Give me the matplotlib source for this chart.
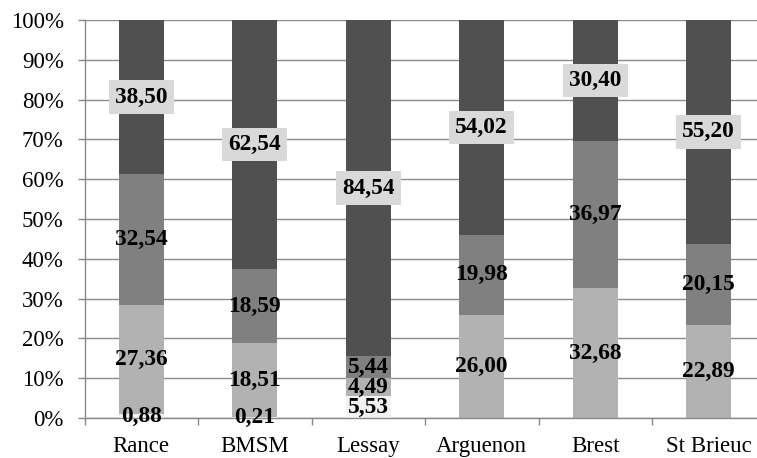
import matplotlib
matplotlib.use("Agg")
import matplotlib.pyplot as plt
import numpy as np

categories = ["Rance", "BMSM", "Lessay", "Arguenon", "Brest", "St Brieuc"]
s1 = [0.88, 0.21, 5.53, 0, 0, 0]
s2 = [27.36, 18.51, 4.49, 26.00, 32.68, 22.89]
s3 = [32.54, 18.59, 5.44, 19.98, 36.97, 20.15]
s4 = [38.50, 62.54, 84.54, 54.02, 30.40, 55.20]
yticks = [0, 10, 20, 30, 40, 50, 60, 70, 80, 90, 100]

series = [s1, s2, s3, s4]
colors = ["#f2f2f2", "#b2b2b2", "#808080", "#505050"]

plt.rcParams['font.family'] = ['Liberation Serif', 'DejaVu Serif']

fig = plt.figure(figsize=(7.57, 4.58), dpi=100)
ax = fig.add_axes([84.5/757, 40/458, 681/757, 398/458])

data = np.array(series, dtype=float)
totals = data.sum(axis=0)
pct = data / totals * 100
x = np.arange(len(categories))
bottom = np.zeros(len(categories))
for i, (row, raw) in enumerate(zip(pct, data)):
    ax.bar(x, row, width=0.4, bottom=bottom, color=colors[i], zorder=2)
    for j in range(len(categories)):
        if raw[j] > 0:
            txt = f"{raw[j]:.2f}".replace(".", ",")
            kw = {}
            if i == 3:
                kw['bbox'] = dict(boxstyle='square,pad=0.27', facecolor='#d9d9d9', edgecolor='none')
            ax.text(x[j], bottom[j] + row[j] / 2, txt, ha='center', va='center',
                    fontsize=16.8, fontweight='bold', color='black', zorder=4, **kw)
    bottom += row

ax.set_xlim(-0.5, len(categories) - 0.5)
ax.set_ylim(0, 100)
ax.set_yticks(yticks)
ax.set_yticklabels([f"{v}%" for v in yticks], fontsize=16.5)
ax.set_xticks(x)
ax.set_xticklabels(categories, fontsize=16.5)
ax.set_xticks(np.arange(len(categories) + 1) - 0.5, minor=True)
ax.tick_params(axis='x', which='major', length=0, pad=13)
ax.tick_params(axis='x', which='minor', length=5, color='#888888', width=1)
ax.tick_params(axis='y', length=5, color='#888888', width=1, pad=10)
ax.yaxis.grid(True, color='#8c8c8c', linewidth=1.0, zorder=1)
ax.set_axisbelow(True)
for s in ['top', 'right']:
    ax.spines[s].set_visible(False)
for s in ['left', 'bottom']:
    ax.spines[s].set_color('#888888')
    ax.spines[s].set_linewidth(1.0)

fig.savefig("out.png", dpi=100)
